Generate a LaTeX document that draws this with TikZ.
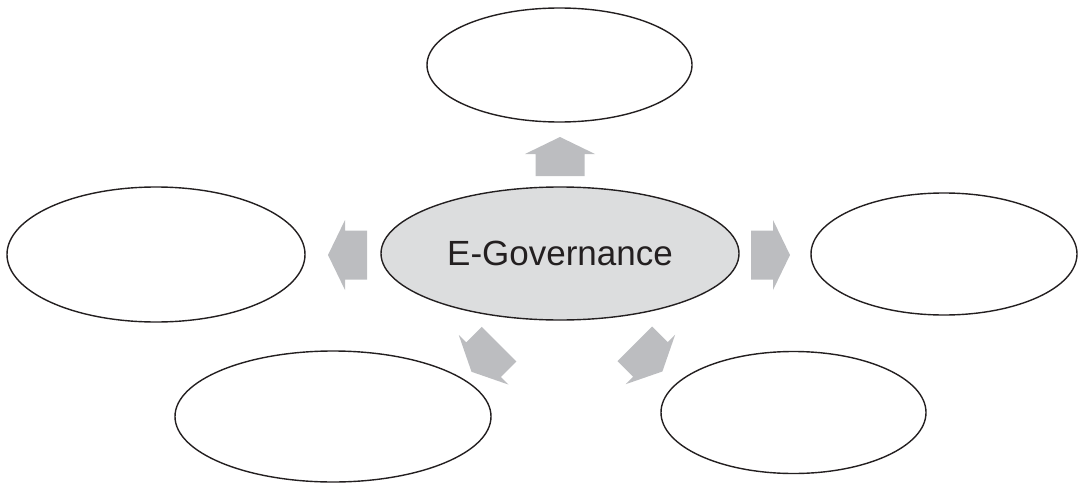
\documentclass[tikz,border=0pt]{standalone}
\usepackage{fontspec}
\setmainfont{Liberation Sans}
\usetikzlibrary{shapes.geometric, positioning, calc}

\tikzset{
    bubble/.style={draw=inkdark, line width=1.4pt, ellipse, inner sep=0pt},
    outarrow/.pic={
        \fill[arrowgray] (-19.5,-24.5) -- (2.5,-24.5) -- (2.5,-35) -- (19.5,0)
            -- (2.5,35) -- (2.5,24.5) -- (-19.5,24.5) -- cycle;
    }
}

\begin{document}
\begin{tikzpicture}[x=1pt, y=1pt]
    % Định nghĩa màu sắc
    \definecolor{inkdark}{RGB}{35, 31, 32}
    \definecolor{hubgray}{RGB}{220, 221, 222}
    \definecolor{arrowgray}{RGB}{188, 189, 192}

    % Khung ảnh
    \useasboundingbox (0,0) rectangle (1078,483);

    % 1. Ellipse trung tâm
    \node[bubble, fill=hubgray, minimum width=358, minimum height=133,
          text=inkdark, font=\fontsize{35}{42}\selectfont] (hub) at (560,229.5) {E-Governance};

    % 2. Các ellipse xung quanh (để trống)
    \node[bubble, minimum width=265, minimum height=114] (top) at (559.5,418) {};
    \node[bubble, minimum width=298, minimum height=135] (left) at (156,228.5) {};
    \node[bubble, minimum width=266, minimum height=122] (right) at (944,229) {};
    \node[bubble, minimum width=316, minimum height=131] (botleft) at (333,66.5) {};
    \node[bubble, minimum width=265, minimum height=122] (botright) at (793.5,70.5) {};

    % 3. Mũi tên khối màu xám, hướng ra ngoài
    \pic (uparrow) at (560,326.5) [rotate=90] {outarrow};
    \pic (leftarrow) at (347.5,228) [rotate=180] {outarrow};
    \pic (rightarrow) at (770.5,228) {outarrow};
    \pic (blarrow) at (485.3,125) [rotate=225] {outarrow};
    \pic (brarrow) at (648.6,125.3) [rotate=-45] {outarrow};

\end{tikzpicture}
\end{document}
